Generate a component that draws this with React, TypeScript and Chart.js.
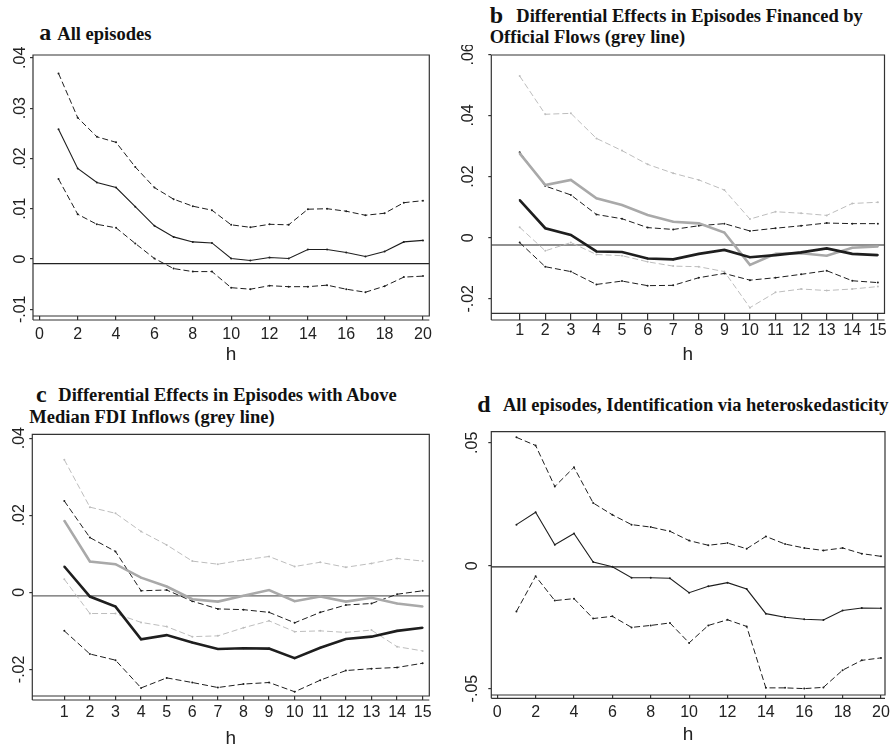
import React, { useEffect, useRef } from "react";
import { Chart, registerables } from "chart.js";

Chart.register(...registerables);

// ---------------- data ----------------
const hLong = [1, 2, 3, 4, 5, 6, 7, 8, 9, 10, 11, 12, 13, 14, 15, 16, 17, 18, 19, 20];
const hShort = [1, 2, 3, 4, 5, 6, 7, 8, 9, 10, 11, 12, 13, 14, 15];

const xTicksLong = [0, 2, 4, 6, 8, 10, 12, 14, 16, 18, 20];
const xTicksShort = [1, 2, 3, 4, 5, 6, 7, 8, 9, 10, 11, 12, 13, 14, 15];

const yTicksA = [-0.01, 0, 0.01, 0.02, 0.03, 0.04];
const yTicksB = [-0.02, 0, 0.02, 0.04, 0.06];
const yTicksC = [-0.02, 0, 0.02, 0.04];
const yTicksD = [-0.05, 0, 0.05];

// Panel a: all episodes
const aCoef = [0.0258, 0.018, 0.0152, 0.0142, 0.0104, 0.0066, 0.0044, 0.0034, 0.0032, 0.0001, -0.0003, 0.0003, 0.0001, 0.0019, 0.0019, 0.0013, 0.0005, 0.0015, 0.0034, 0.0037];
const aUpper = [0.0369, 0.0281, 0.0243, 0.0232, 0.0183, 0.0142, 0.0119, 0.0105, 0.0097, 0.0068, 0.0063, 0.0069, 0.0068, 0.0099, 0.01, 0.0095, 0.0087, 0.0091, 0.0112, 0.0116];
const aLower = [0.0159, 0.0089, 0.0069, 0.0062, 0.0031, 0.0001, -0.0019, -0.0025, -0.0025, -0.0057, -0.006, -0.0053, -0.0055, -0.0055, -0.0052, -0.006, -0.0066, -0.0054, -0.0036, -0.0034];
const aRef = -0.0009;

// Panel b: official flows
const bCoef = [0.0123, 0.0031, 0.0009, -0.0045, -0.0047, -0.0068, -0.0071, -0.0053, -0.004, -0.0064, -0.0057, -0.0048, -0.0035, -0.0053, -0.0057];
const bUpper = [0.028, 0.0169, 0.014, 0.0076, 0.0062, 0.0033, 0.0027, 0.0039, 0.0046, 0.0022, 0.0031, 0.0039, 0.0048, 0.0046, 0.0046];
const bLower = [-0.0016, -0.0095, -0.0111, -0.0153, -0.0142, -0.0157, -0.0156, -0.0131, -0.0117, -0.0139, -0.0131, -0.012, -0.0108, -0.0141, -0.0147];
const bGrey = [0.0276, 0.0172, 0.0189, 0.0129, 0.0107, 0.0074, 0.0052, 0.0047, 0.0017, -0.0089, -0.0053, -0.0051, -0.0059, -0.0033, -0.0029];
const bGreyUpper = [0.0529, 0.0404, 0.0407, 0.0325, 0.0285, 0.024, 0.0211, 0.0189, 0.0156, 0.0061, 0.0085, 0.008, 0.0073, 0.0112, 0.0116];
const bGreyLower = [0.0034, -0.0043, -0.0016, -0.0055, -0.0059, -0.0079, -0.0093, -0.0095, -0.0111, -0.0229, -0.0179, -0.0168, -0.0173, -0.0168, -0.016];
const bRef = -0.0024;

// Panel c: above-median FDI inflows
const cCoef = [0.0067, -0.0011, -0.0037, -0.0122, -0.0111, -0.013, -0.0147, -0.0145, -0.0146, -0.0171, -0.0144, -0.0121, -0.0115, -0.01, -0.0092];
const cUpper = [0.0237, 0.0142, 0.0106, 0.0004, 0.0006, -0.0023, -0.0043, -0.0045, -0.0052, -0.0079, -0.0052, -0.0033, -0.0029, -0.0005, 0.0004];
const cLower = [-0.01, -0.016, -0.0176, -0.0248, -0.0222, -0.0234, -0.0247, -0.0238, -0.0234, -0.0258, -0.0228, -0.0203, -0.0198, -0.0195, -0.0184];
const cGrey = [0.0186, 0.008, 0.0073, 0.0038, 0.0015, -0.0018, -0.0024, -0.0009, 0.0006, -0.0023, -0.0011, -0.0024, -0.0014, -0.0029, -0.0037];
const cGreyUpper = [0.0344, 0.0221, 0.0205, 0.0158, 0.0123, 0.0081, 0.0073, 0.0084, 0.0093, 0.0067, 0.0078, 0.0065, 0.0075, 0.0088, 0.0081];
const cGreyLower = [0.0034, -0.0055, -0.0055, -0.0078, -0.0089, -0.0115, -0.0113, -0.0092, -0.0074, -0.0102, -0.01, -0.0104, -0.0098, -0.0141, -0.0152];
const cRef = -0.0009;

// Panel d: identification via heteroskedasticity
const dCoef = [0.0167, 0.0217, 0.0085, 0.0131, 0.0015, -0.0004, -0.0049, -0.0049, -0.0051, -0.011, -0.0084, -0.0069, -0.0095, -0.0195, -0.021, -0.0218, -0.0221, -0.0182, -0.0172, -0.0173];
const dUpper = [0.0522, 0.0489, 0.0322, 0.04, 0.0255, 0.0207, 0.0167, 0.0157, 0.014, 0.0102, 0.0083, 0.0092, 0.0069, 0.0119, 0.0088, 0.0072, 0.0062, 0.0072, 0.0049, 0.0038];
const dLower = [-0.0186, -0.0043, -0.0142, -0.0134, -0.0215, -0.0206, -0.0251, -0.0243, -0.0233, -0.0314, -0.0243, -0.022, -0.0247, -0.0497, -0.0497, -0.05, -0.0495, -0.0425, -0.0385, -0.0375];
const dRef = -0.0005;

// ---------------- styles ----------------
const BLACK = "#1e1e1e";
const GREY = "#a9a9a9";
const GREY_DASH = "#bdbdbd";
const DASH = [6, 3];
const SANS = '"Liberation Sans", Arial, Helvetica, sans-serif';
const SERIF = '"Liberation Serif", "Times New Roman", serif';

type Line = { data: number[]; color: string; width: number; dash: number[] };

type PanelCfg = {
  canvas: { x: number; y: number; w: number; h: number };
  area: { L: number; T: number; R: number; B: number };
  xMin: number; xMax: number; yMin: number; yMax: number;
  h: number[]; xTicks: number[]; yTicks: number[];
  lines: Line[];
  ref: number; refColor: string;
  axisGap: number; xLabelPad: number; hx: number; titlePadBottom: number;
  yLabelGap: number;
};

const fmtY = (v: number) => {
  if (Math.abs(v) < 1e-12) return "0";
  const s = String(+v.toFixed(4));
  return s.replace(/^(-?)0\./, "$1.");
};

const WY = 30;

function Panel({ cfg }: { cfg: PanelCfg }) {
  const ref = useRef<HTMLCanvasElement | null>(null);
  useEffect(() => {
    if (!ref.current) return;
    const { canvas, area } = cfg;
    const frame = {
      id: "stataFrame",
      beforeDatasetsDraw(chart: any) {
        const { ctx, chartArea: a, scales } = chart;
        const y = scales.y.getPixelForValue(cfg.ref);
        ctx.save();
        ctx.strokeStyle = cfg.refColor;
        ctx.lineWidth = 1.2;
        ctx.beginPath();
        ctx.moveTo(a.left, y);
        ctx.lineTo(a.right, y);
        ctx.stroke();
        ctx.restore();
      },
      afterDraw(chart: any) {
        const { ctx, chartArea: a, scales } = chart;
        ctx.save();
        ctx.strokeStyle = "#333";
        ctx.lineWidth = 1.2;
        ctx.beginPath();
        ctx.moveTo(a.left, a.bottom + cfg.axisGap);
        ctx.lineTo(a.left, a.top);
        ctx.lineTo(a.right, a.top);
        ctx.lineTo(a.right, a.bottom);
        ctx.lineTo(a.left, a.bottom);
        ctx.moveTo(a.left, a.bottom + cfg.axisGap);
        ctx.lineTo(a.right, a.bottom + cfg.axisGap);
        ctx.stroke();
        ctx.fillStyle = "#222";
        ctx.font = `16px ${SANS}`;
        ctx.textAlign = "center";
        ctx.textBaseline = "middle";
        for (const t of scales.y.ticks) {
          const py = scales.y.getPixelForValue(t.value);
          ctx.save();
          ctx.translate(a.left - cfg.yLabelGap, py);
          ctx.rotate(-Math.PI / 2);
          ctx.fillText(fmtY(t.value), 0, 0);
          ctx.restore();
        }
        ctx.restore();
      },
    };
    const chart = new Chart(ref.current, {
      type: "line",
      data: {
        datasets: cfg.lines.map((l) => ({
          data: cfg.h.map((x, i) => ({ x, y: l.data[i] })),
          borderColor: l.color,
          borderWidth: l.width,
          borderDash: l.dash,
          pointRadius: 1,
          pointBackgroundColor: l.color,
          pointBorderWidth: 0,
          fill: false,
          tension: 0,
        })),
      },
      options: {
        responsive: false,
        animation: false,
        devicePixelRatio: 1,
        layout: {
          padding: {
            left: area.L - canvas.x - WY,
            top: area.T - canvas.y,
            right: canvas.x + canvas.w - area.R,
            bottom: canvas.y + canvas.h - area.B - cfg.hx,
          },
        },
        plugins: { legend: { display: false }, tooltip: { enabled: false } },
        scales: {
          x: {
            type: "linear",
            min: cfg.xMin,
            max: cfg.xMax,
            afterBuildTicks: (s: any) => {
              s.ticks = cfg.xTicks.map((v) => ({ value: v }));
            },
            afterFit: (s: any) => {
              s.height = cfg.hx;
            },
            border: { display: false },
            grid: { drawOnChartArea: false, drawTicks: true, tickLength: cfg.axisGap, color: "#333", lineWidth: 1.2 },
            ticks: {
              autoSkip: false,
              maxRotation: 0,
              minRotation: 0,
              padding: cfg.xLabelPad,
              color: "#222",
              font: { family: SANS, size: 16 },
              callback: (v: any) => String(v),
            },
            title: {
              display: true,
              text: "h",
              color: "#222",
              font: { family: SANS, size: 19 },
              padding: { top: 0, bottom: cfg.titlePadBottom },
            },
          },
          y: {
            type: "linear",
            min: cfg.yMin,
            max: cfg.yMax,
            afterBuildTicks: (s: any) => {
              s.ticks = cfg.yTicks.map((v) => ({ value: v }));
            },
            afterFit: (s: any) => {
              s.width = WY;
            },
            border: { display: false },
            grid: { drawOnChartArea: false, drawTicks: true, tickLength: 3, color: "#333", lineWidth: 1.2 },
            ticks: { display: false },
          },
        },
      },
      plugins: [frame],
    } as any);
    return () => chart.destroy();
  }, [cfg]);
  const { canvas } = cfg;
  return (
    <canvas
      ref={ref}
      width={canvas.w}
      height={canvas.h}
      style={{ position: "absolute", left: canvas.x, top: canvas.y, width: canvas.w, height: canvas.h }}
    />
  );
}

function Txt({ x, base, size, children }: { x: number; base: number; size: number; children: React.ReactNode }) {
  return (
    <div
      style={{
        position: "absolute",
        left: x,
        top: base - 0.8375 * size,
        fontFamily: SERIF,
        fontWeight: "bold",
        fontSize: size,
        lineHeight: `${size}px`,
        whiteSpace: "nowrap",
        color: "#111",
      }}
    >
      {children}
    </div>
  );
}

const solid = (data: number[]): Line => ({ data, color: BLACK, width: 1.1, dash: [] });
const dashed = (data: number[]): Line => ({ data, color: BLACK, width: 1, dash: DASH });
const thick = (data: number[]): Line => ({ data, color: BLACK, width: 2.6, dash: [] });
const greyThick = (data: number[]): Line => ({ data, color: GREY, width: 2.6, dash: [] });
const greyDashed = (data: number[]): Line => ({ data, color: GREY_DASH, width: 1, dash: DASH });

const panelA: PanelCfg = {
  canvas: { x: 0, y: 45, w: 448, h: 325 },
  area: { L: 33, T: 55, R: 429.3, B: 316 },
  xMin: -0.33, xMax: 20.33, yMin: -0.01133, yMax: 0.04056,
  h: hLong, xTicks: xTicksLong, yTicks: yTicksA,
  lines: [solid(aCoef), dashed(aUpper), dashed(aLower)],
  ref: aRef, refColor: "#222",
  axisGap: 4, xLabelPad: 4.7, hx: 50.5, titlePadBottom: 0, yLabelGap: 12.2,
};

const panelB: PanelCfg = {
  canvas: { x: 448, y: 45, w: 448, h: 325 },
  area: { L: 491.3, T: 55, R: 884.5, B: 313.3 },
  xMin: -0.11, xMax: 15.26, yMin: -0.02475, yMax: 0.0598,
  h: hShort, xTicks: xTicksShort, yTicks: yTicksB,
  lines: [thick(bCoef), greyThick(bGrey), dashed(bUpper), dashed(bLower), greyDashed(bGreyUpper), greyDashed(bGreyLower)],
  ref: bRef, refColor: "#222",
  axisGap: 6.7, xLabelPad: 1.4, hx: 53.2, titlePadBottom: 0, yLabelGap: 22.5,
};

const panelC: PanelCfg = {
  canvas: { x: 0, y: 425, w: 448, h: 323 },
  area: { L: 32.3, T: 434.3, R: 429.3, B: 696 },
  xMin: -0.25, xMax: 15.26, yMin: -0.0269, yMax: 0.041,
  h: hShort, xTicks: xTicksShort, yTicks: yTicksC,
  lines: [thick(cCoef), greyThick(cGrey), dashed(cUpper), dashed(cLower), greyDashed(cGreyUpper), greyDashed(cGreyLower)],
  ref: cRef, refColor: "#666",
  axisGap: 4, xLabelPad: 3.1, hx: 52, titlePadBottom: -1.8, yLabelGap: 12.6,
};

const panelD: PanelCfg = {
  canvas: { x: 448, y: 425, w: 448, h: 323 },
  area: { L: 491.3, T: 431.7, R: 885, B: 695 },
  xMin: -0.31, xMax: 20.21, yMin: -0.0526, yMax: 0.0545,
  h: hLong, xTicks: xTicksLong, yTicks: yTicksD,
  lines: [solid(dCoef), dashed(dUpper), dashed(dLower)],
  ref: dRef, refColor: "#222",
  axisGap: 3.3, xLabelPad: 4.8, hx: 51.5, titlePadBottom: 0, yLabelGap: 18.8,
};

export default function App() {
  return (
    <div style={{ position: "absolute", left: 0, top: 0, width: 896, height: 748, overflow: "hidden", background: "#fff" }}>
      <Txt x={39.3} base={40.5} size={24}>a</Txt>
      <Txt x={57.3} base={40.5} size={18.5}>All episodes</Txt>

      <Txt x={489.7} base={22.7} size={24}>b</Txt>
      <Txt x={516.3} base={22.7} size={18.5}>Differential Effects in Episodes Financed by</Txt>
      <Txt x={489.7} base={43.3} size={18.5}>Official Flows (grey line)</Txt>

      <Txt x={36} base={401.7} size={24}>c</Txt>
      <Txt x={58.3} base={401.7} size={18.5}>Differential Effects in Episodes with Above</Txt>
      <Txt x={29.3} base={423} size={18.5}>Median FDI Inflows (grey line)</Txt>

      <Txt x={477.3} base={411.7} size={24}>d</Txt>
      <Txt x={503} base={411.7} size={18.5}>All episodes, Identification via heteroskedasticity</Txt>

      <Panel cfg={panelA} />
      <Panel cfg={panelB} />
      <Panel cfg={panelC} />
      <Panel cfg={panelD} />
    </div>
  );
}
